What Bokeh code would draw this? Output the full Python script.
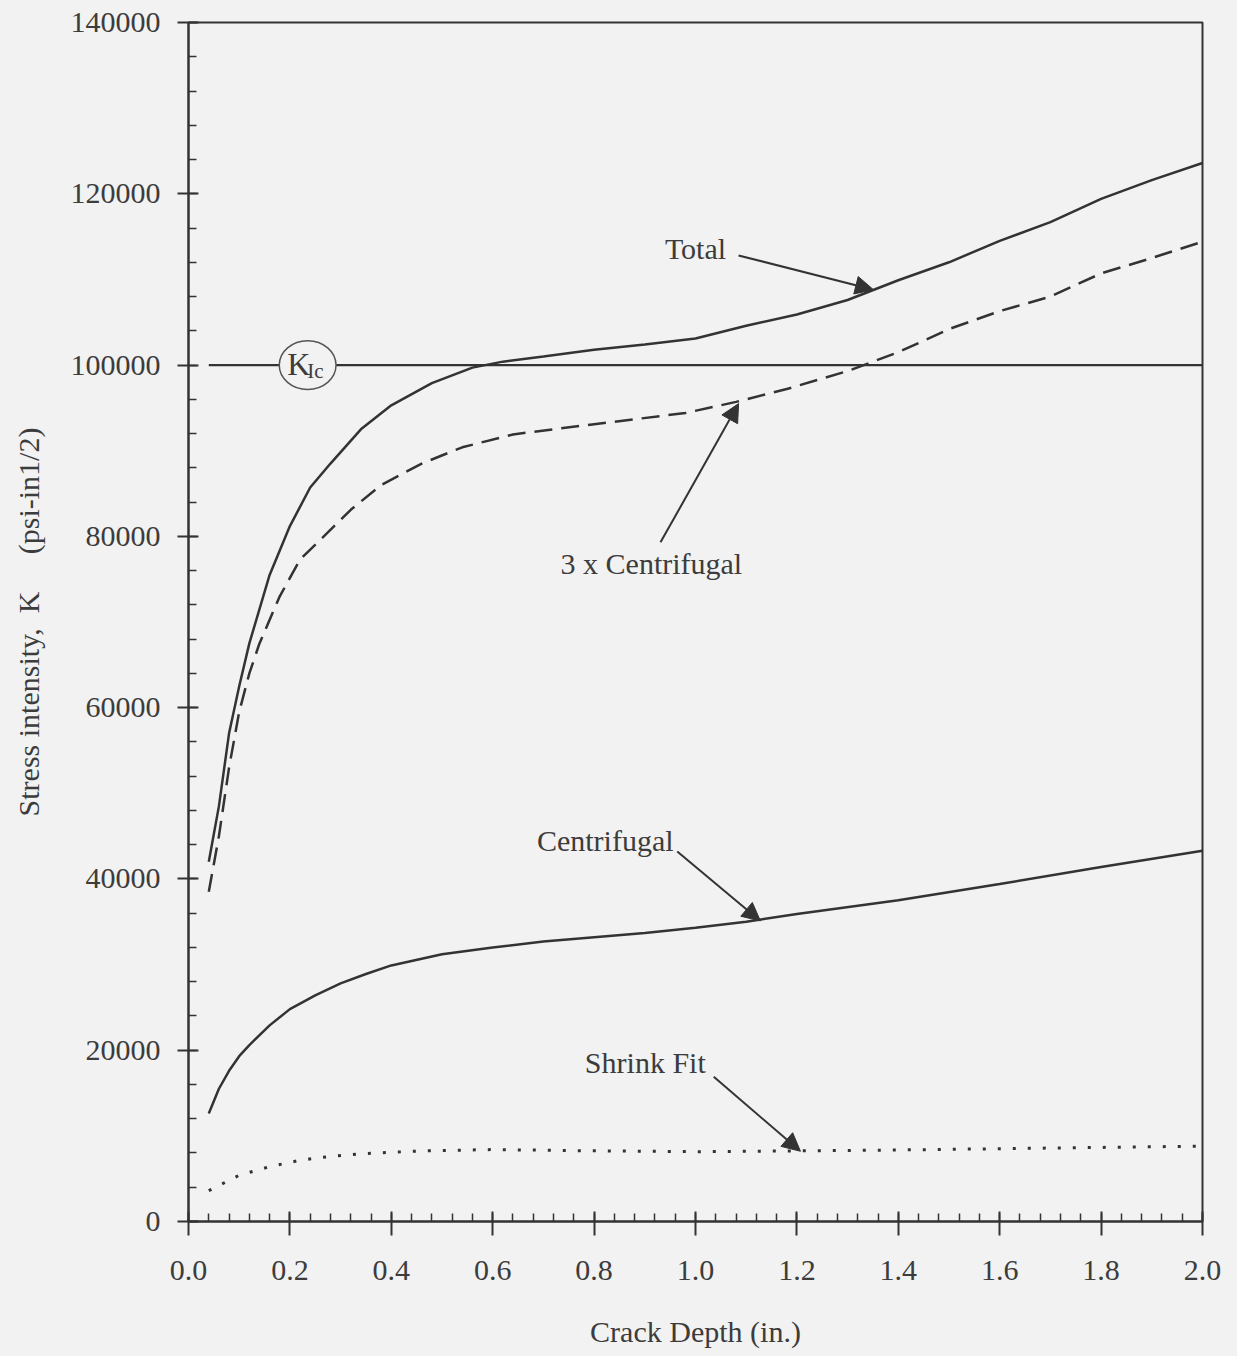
from bokeh.plotting import figure
from bokeh.models import (Range1d, SingleIntervalTicker, NumeralTickFormatter,
                          Arrow, NormalHead)
from bokeh.core.properties import value
from bokeh.embed import file_html
from bokeh.resources import INLINE
from jinja2 import Template

# ---------------- data ----------------
total_x = [0.04, 0.06, 0.08, 0.10, 0.12, 0.16, 0.20, 0.24, 0.28, 0.34, 0.40, 0.48,
           0.56, 0.62, 0.70, 0.80, 0.90, 1.00, 1.10, 1.20, 1.30, 1.40, 1.50, 1.60,
           1.70, 1.80, 1.90, 2.00]
total_y = [42000, 48500, 57000, 62500, 67500, 75500, 81200, 85700, 88500, 92500,
           95300, 97900, 99700, 100400, 101000, 101800, 102400, 103100, 104600,
           105900, 107600, 109900, 112000, 114500, 116700, 119400, 121600, 123600]

cent3_x = [0.04, 0.06, 0.08, 0.10, 0.12, 0.14, 0.18, 0.22, 0.26, 0.32, 0.38, 0.46,
           0.54, 0.64, 0.80, 0.98, 1.08, 1.18, 1.30, 1.40, 1.50, 1.60, 1.70, 1.80,
           1.90, 2.00]
cent3_y = [38500, 45000, 53000, 59500, 64000, 67500, 73000, 77300, 79600, 83100,
           86000, 88500, 90400, 91900, 93100, 94400, 95700, 97200, 99300, 101500,
           104200, 106300, 108000, 110700, 112500, 114400]

cent_x = [0.04, 0.06, 0.08, 0.10, 0.12, 0.16, 0.20, 0.25, 0.30, 0.35, 0.40, 0.50,
          0.60, 0.70, 0.80, 0.90, 1.00, 1.10, 1.20, 1.40, 1.60, 1.80, 2.00]
cent_y = [12600, 15500, 17600, 19300, 20600, 22900, 24800, 26400, 27800, 28900,
          29900, 31200, 32000, 32700, 33200, 33700, 34300, 35000, 35900, 37500,
          39400, 41400, 43300]

shrink_x = [0.04, 0.10, 0.16, 0.22, 0.28, 0.34, 0.46, 0.60, 0.80, 1.00, 1.20, 1.40,
            1.60, 1.80, 2.00]
shrink_y = [3600, 5400, 6400, 7150, 7600, 7900, 8250, 8400, 8250, 8150, 8250, 8350,
            8500, 8650, 8800]

kic_x = [0.04, 2.00]
kic_y = [100000, 100000]

x_ticks_interval = 0.2
y_ticks_interval = 20000

# ---------------- styling ----------------
BG = "#f2f2f2"
INK = "#333333"
TXT = "#3c3c3c"
FONT = "Liberation Serif"

p = figure(width=1230, height=1350,
           x_range=Range1d(0, 2.0), y_range=Range1d(0, 140000),
           output_backend="svg", toolbar_location=None,
           min_border_left=188, min_border_right=28,
           min_border_top=22, min_border_bottom=127,
           background_fill_color=BG, border_fill_color=BG)

p.xgrid.visible = False
p.ygrid.visible = False
p.outline_line_color = INK
p.outline_line_width = 2

p.xaxis.ticker = SingleIntervalTicker(interval=x_ticks_interval, num_minor_ticks=5)
p.yaxis.ticker = SingleIntervalTicker(interval=y_ticks_interval, num_minor_ticks=5)
p.xaxis.formatter = NumeralTickFormatter(format="0.0")
p.yaxis.formatter = NumeralTickFormatter(format="0")

for ax in (p.xaxis, p.yaxis):
    ax.axis_line_color = INK
    ax.axis_line_width = 2
    ax.major_tick_line_color = INK
    ax.major_tick_line_width = 2
    ax.minor_tick_line_color = INK
    ax.minor_tick_line_width = 1.5
    ax.minor_tick_in = 8
    ax.minor_tick_out = 0
    ax.major_label_text_font = FONT
    ax.major_label_text_font_size = "30px"
    ax.major_label_text_color = TXT
    ax.axis_label_text_font = FONT
    ax.axis_label_text_font_size = "30px"
    ax.axis_label_text_font_style = "normal"
    ax.axis_label_text_color = TXT

p.xaxis.major_tick_in = 10
p.xaxis.major_tick_out = 14
p.xaxis.major_label_standoff = 25
p.xaxis.axis_label_standoff = 32
p.yaxis.major_tick_in = 10
p.yaxis.major_tick_out = 11
p.yaxis.major_label_standoff = 17
p.yaxis.axis_label_standoff = 23

p.xaxis.axis_label = "Crack Depth (in.)"
p.yaxis.axis_label = "Stress intensity,\u00a0\u00a0K\u00a0\u00a0\u00a0\u00a0\u00a0(psi-in1/2)"

# ---------------- curves ----------------
p.line(kic_x, kic_y, line_color=INK, line_width=2.2)
p.line(total_x, total_y, line_color=INK, line_width=2.5)
p.line(cent3_x, cent3_y, line_color=INK, line_width=2.5, line_dash="18 9")
p.line(cent_x, cent_y, line_color=INK, line_width=2.5)
p.line(shrink_x, shrink_y, line_color=INK, line_width=3, line_dash="3 12")

# K_Ic marker
p.ellipse(x=[0.235], y=[100000], width=0.112, height=5700,
          fill_color=BG, line_color="#555555", line_width=1.5)
p.text(x=[0.195], y=[100150], text=["K"], text_font=value(FONT),
       text_font_size="32px", text_color=TXT, text_align="left",
       text_baseline="middle")
p.text(x=[0.234], y=[99250], text=["Ic"], text_font=value(FONT),
       text_font_size="21px", text_color=TXT, text_align="left",
       text_baseline="middle")

# ---------------- annotations ----------------
labels = ["Total", "3 x Centrifugal", "Centrifugal", "Shrink Fit"]
lab_x = [1.0, 0.913, 0.822, 0.901]
lab_y = [113600, 76800, 44500, 18600]
p.text(x=lab_x, y=lab_y, text=labels, text_font=value(FONT),
       text_font_size="30px", text_color=TXT, text_align="center",
       text_baseline="middle")

arrows = [((1.085, 112800), (1.351, 108800)),
          ((0.931, 79300), (1.085, 95500)),
          ((0.964, 43200), (1.128, 35100)),
          ((1.036, 16900), (1.207, 8200))]
for (x0, y0), (x1, y1) in arrows:
    p.add_layout(Arrow(x_start=x0, y_start=y0, x_end=x1, y_end=y1,
                       line_color=INK, line_width=2,
                       end=NormalHead(size=18, fill_color=INK, line_color=INK,
                                      line_width=1)))

template = Template("""{% extends base %}
{% block postamble %}<style>body { background-color: #f2f2f2; }</style>{% endblock %}
""")
html = file_html(p, INLINE, "chart", template=template)
open("out.html", "w").write(html)
